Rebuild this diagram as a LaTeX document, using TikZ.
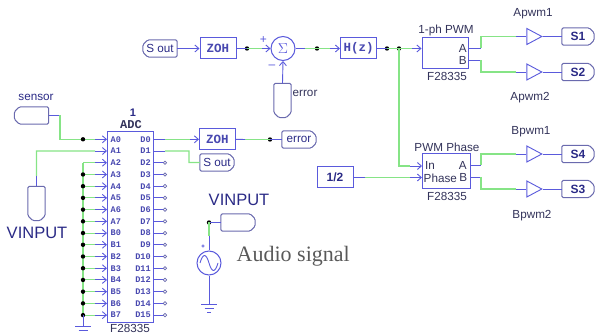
\documentclass[tikz,border=0pt]{standalone}
\usepackage{fontspec}
\setmainfont{Liberation Sans}
\newfontfamily\monof{Liberation Mono}
\newfontfamily\serf{Liberation Serif}
\usetikzlibrary{shapes.geometric,arrows.meta,calc}
\definecolor{bl}{HTML}{5A5ADC}
\definecolor{gr}{HTML}{86E486}
\definecolor{tagc}{HTML}{6A6AAE}
\definecolor{nav}{HTML}{2A2A86}
\definecolor{txt}{HTML}{33335A}
\tikzset{
  x=1pt,y=-1pt,
  bwire/.style={bl,line width=0.9pt},
  gwire/.style={gr,line width=1.1pt},
  arr/.style={-{Straight Barb[length=4pt,width=7pt]},bl,line width=0.9pt},
  blockb/.style={draw=bl,line width=1pt,rectangle,inner sep=0pt},
  tagb/.style={rectangle,inner sep=0pt,text=nav},
  tagh/.style={tagb,minimum width=34pt,minimum height=17pt},
  tagv/.style={tagb,minimum width=17pt,minimum height=34pt},
  tagline/.style={draw=tagc,line width=1pt,rounded corners=1.5pt},
  jdot/.style={circle,fill=black,inner sep=0pt,minimum size=4.4pt},
  opend/.style={circle,draw=tagc,fill=white,line width=0.7pt,inner sep=0pt,minimum size=3.4pt},
  amp/.style={draw=bl,line width=0.9pt,isosceles triangle,isosceles triangle stretches,inner sep=0pt,minimum width=16pt,minimum height=15pt},
  lab/.style={font=\fontsize{11.7}{13}\selectfont,text=txt,inner sep=0pt},
  pinl/.style={font=\monof\bfseries\fontsize{8.6}{9}\selectfont,text=bl!80!black,inner sep=0pt},
  mono/.style={font=\monof\bfseries\fontsize{12.5}{13}\selectfont,text=bl!80!black,inner sep=0pt},
  bigl/.style={font=\fontsize{16.5}{18}\selectfont,text=nav,inner sep=0pt},
  boldl/.style={font=\bfseries\fontsize{12}{13}\selectfont,text=nav},
}
\newcommand{\gndsym}[1]{%
  \draw[bl,line width=0.9pt] ($(#1)+(-8,0)$) -- ($(#1)+(8,0)$);
  \draw[bl,line width=0.9pt] ($(#1)+(-4.5,4)$) -- ($(#1)+(4.5,4)$);
  \draw[bl,line width=0.9pt] ($(#1)+(-2,8)$) -- ($(#1)+(2,8)$);}
% outlines of the three kinds of tag, taken from the node's corners
\newcommand{\tagR}[1]{\draw[tagline] (#1.north west) -- ($(#1.north east)+(-5,0)$) -- ($(#1.north east)+(0,5)$) -- ($(#1.south east)+(0,-5)$) -- ($(#1.south east)+(-5,0)$) -- (#1.south west) -- cycle;}
\newcommand{\tagL}[1]{\draw[tagline] (#1.north east) -- ($(#1.north west)+(5,0)$) -- ($(#1.north west)+(0,5)$) -- ($(#1.south west)+(0,-5)$) -- ($(#1.south west)+(5,0)$) -- (#1.south east) -- cycle;}
\newcommand{\tagD}[1]{\draw[tagline] (#1.north west) -- (#1.north east) -- ($(#1.south east)+(0,-5)$) -- ($(#1.south east)+(-5,0)$) -- ($(#1.south west)+(5,0)$) -- ($(#1.south west)+(0,-5)$) -- cycle;}
\begin{document}
\begin{tikzpicture}
\useasboundingbox (0,0) rectangle (595,334);
% ===== ADC =====
\node[blockb,minimum width=46pt,minimum height=190pt] (adc) at (130,227) {};
\node[font=\bfseries\fontsize{11}{12}\selectfont,text=nav,inner sep=0pt] (adcn) at (133,112.5) {1};
\node[font=\monof\bfseries\fontsize{12}{13}\selectfont,text=txt,inner sep=0pt] (adct) at (131,124.5) {ADC};
\node[lab] (adcf) at (130,328) {F28335};
\foreach \n [count=\i from 0] in {A0,A1,A2,A3,A4,A5,A6,A7,B0,B1,B2,B3,B4,B5,B6,B7}{
  \coordinate (p\n) at (107,139.3+\i*11.72);
  \coordinate (q\n) at (95,139.3+\i*11.72);
  \coordinate (v\n) at (83,139.3+\i*11.72);
  \node[pinl,anchor=west] (l\n) at (110.5,139.3+\i*11.72) {\n};
}
\foreach \n [count=\i from 0] in {D0,D1,D2,D3,D4,D5,D6,D7,D8,D9,D10,D11,D12,D13,D14,D15}{
  \coordinate (p\n) at (153,139.3+\i*11.72);
  \coordinate (q\n) at (165,139.3+\i*11.72);
  \node[pinl,anchor=east] (l\n) at (151,139.3+\i*11.72) {\n};
}
% green rail for unused analog inputs
\draw[gwire] (vA2) -- (vB7);
\foreach \n in {A2,A3,A4,A5,A6,A7,B0,B1,B2,B3,B4,B5,B6,B7}{
  \draw[gwire] (v\n) -- (q\n);
  \draw[arr] (q\n) -- (p\n);
}
\foreach \n in {A3,A4,A5,A6,A7,B0,B1,B2,B3,B4,B5,B6,B7}{
  \node[jdot] (d\n) at (v\n) {};
}
\foreach \n in {D2,D3,D4,D5,D6,D7,D8,D9,D10,D11,D12,D13,D14,D15}{
  \draw[bwire] (p\n) -- (q\n);
  \node[opend] (o\n) at (q\n) {};
}
\coordinate (gA) at (83,326);
\draw[bwire] (vB7) -- (gA);
\gndsym{gA}
% sensor
\node[tagh] (sensor) at (31.5,115.5) {}; \tagL{sensor}
\node[lab,text=nav] (sensort) at (36,97.5) {sensor};
\coordinate (s1) at (60,115.5);
\coordinate (s2) at (60,139.3);
\draw[bwire] (sensor.east) -- (s1);
\draw[gwire] (s1) -- (s2) -- (qA0);
\draw[arr] (qA0) -- (pA0);
\node[jdot] (dA0) at (vA0) {};
% VINPUT left
\node[tagv] (vinl) at (36.5,203.5) {}; \tagD{vinl}
\node[bigl] (vinlt) at (37,233) {VINPUT};
\coordinate (v1) at (36.5,151);
\draw[bwire] (vinl.north) -- (36.5,176);
\draw[gwire] (36.5,176) -- (v1) -- (qA1);
\draw[arr] (qA1) -- (pA1);
% ZOH mid
\node[blockb,minimum width=36pt,minimum height=21pt,mono] (zoh2) at (217.5,139.3) {ZOH};
\node[tagh] (err2) at (299,139.5) {\fontsize{11.7}{13}\selectfont error}; \tagR{err2}
\node[jdot] (d2) at (270,139.5) {};
\draw[gwire] (qD0) -- (190,139.3);
\draw[bwire] (pD0) -- (qD0);
\draw[arr] (190,139.3) -- (zoh2.west);
\draw[gwire] (245,139.5) -- (d2.center);
\draw[bwire] (zoh2.east) -- (245,139.5);
\draw[bwire] (d2.center) -- (err2.west);
% S out lower
\node[tagh] (sout2) at (217,162.5) {\fontsize{11.7}{13}\selectfont S out}; \tagR{sout2}
\draw[bwire] (pD1) -- (qD1);
\draw[gwire] (qD1) -- (189,151) -- (189,162.5) -- (sout2.west);
% Source
\node[tagh] (vin2) at (238,222.5) {}; \tagR{vin2}
\node[bigl] (vin2t) at (239,200) {VINPUT};
\node[jdot] (d3) at (209,222.5) {};
\draw[bwire] (vin2.west) -- (d3.center);
\node[circle,draw=bl,line width=1pt,minimum size=24pt,inner sep=0pt] (src) at (209,263) {};
\draw[gwire] (d3.center) -- (209,236);
\draw[bwire] (209,236) -- (src.north);
\draw[bl,line width=0.9pt] (200,263) .. controls (203,253) and (206,253) .. (209,263) .. controls (212,273) and (215,273) .. (218,263);
\node[circle,draw=bl,line width=0.6pt,inner sep=0pt,minimum size=2.5pt] (srcd) at (203,246) {};
\coordinate (gS) at (209,304);
\draw[bwire] (src.south) -- (gS);
\gndsym{gS}
\node[font=\serf\fontsize{22}{24}\selectfont,text=black!65,inner sep=0pt,anchor=west] (aud) at (236.5,256) {Audio signal};
% ===== top chain =====
\node[tagh] (sout1) at (160,48.5) {\fontsize{11.7}{13}\selectfont S out}; \tagL{sout1}
\node[blockb,minimum width=36pt,minimum height=21pt,mono] (zoh1) at (218,48.5) {ZOH};
\node[circle,draw=bl,line width=1pt,minimum size=24pt,inner sep=0pt,text=bl] (sum) at (283,48.5) {\fontsize{15}{16}\selectfont$\Sigma$};
\node[blockb,minimum width=36pt,minimum height=21pt,mono] (hz) at (358.5,48.5) {H(z)};
\node[jdot] (d4) at (247,48.5) {};
\node[jdot] (d5) at (317,48.5) {};
\node[jdot] (d6) at (387,48.5) {};
\node[jdot] (d7) at (399,48.5) {};
\draw[arr] (sout1.east) -- (zoh1.west);
\draw[bwire] (zoh1.east) -- (d4.center);
\draw[gwire] (d4.center) -- (262,48.5);
\draw[arr] (262,48.5) -- (sum.west);
\draw[bwire] (sum.east) -- (305,48.5);
\draw[gwire] (305,48.5) -- (330,48.5);
\draw[arr] (330,48.5) -- (hz.west);
\draw[bwire] (hz.east) -- (d6.center);
\draw[gwire] (d6.center) -- (d7.center) -- (412,48.5);
\node[font=\fontsize{12}{13}\selectfont,text=bl,inner sep=0pt] (plus) at (263.5,40) {+};
\node[font=\fontsize{12}{13}\selectfont,text=bl,inner sep=0pt] (minus) at (272,67) {\textendash};
\node[tagv] (err1) at (282.5,100.5) {}; \tagD{err1}
\node[lab,anchor=west] (err1t) at (292.5,93.5) {error};
\draw[arr] (err1.north) -- (sum.south);
% ===== PWM 1 =====
\node[blockb,minimum width=46pt,minimum height=31pt] (pwm1) at (445,53.5) {};
\node[lab] (pwm1t) at (446,30) {1-ph PWM};
\node[lab] (pwm1f) at (447,76.5) {F28335};
\node[lab,anchor=east] (pwm1a) at (467,48) {A};
\node[lab,anchor=east] (pwm1b) at (467,60.5) {B};
\draw[arr] (412,48.5) -- (pwm1.west |- d7);
\coordinate (pa1) at (468,48.5);
\coordinate (pa2) at (481,48.5);
\coordinate (pb1) at (468,60.5);
\coordinate (pb2) at (481,60.5);
\node[amp,anchor=apex] (t1) at (543,36.5) {};
\node[amp,anchor=apex] (t2) at (543,72) {};
\node[tagh,boldl,minimum width=32pt] (S1) at (578,36.5) {S1}; \tagR{S1}
\node[tagh,boldl,minimum width=32pt] (S2) at (578,72) {S2}; \tagR{S2}
\draw[bwire] (pa1) -- (pa2);
\draw[bwire] (pb1) -- (pb2);
\draw[gwire] (pa2) -- (481,36.5) -- (516,36.5);
\draw[gwire] (pb2) -- (481,72) -- (516,72);
\draw[bwire] (516,36.5) -- (t1.west);
\draw[bwire] (516,72) -- (t2.west);
\draw[bwire] (t1.apex) -- (S1.west);
\draw[bwire] (t2.apex) -- (S2.west);
\node[lab] (ap1) at (533,14) {Apwm1};
\node[lab] (ap2) at (530,98) {Apwm2};
% ===== PWM phase =====
\node[blockb,minimum width=48pt,minimum height=35pt] (pwm2) at (446,171.5) {};
\node[lab] (pwm2t) at (447,147) {PWM Phase};
\node[lab] (pwm2f) at (447,196) {F28335};
\node[lab,anchor=west] (pwm2i) at (425,165) {In};
\node[lab,anchor=west] (pwm2p) at (423.5,178) {Phase};
\node[lab,anchor=east] (pwm2a) at (467,165) {A};
\node[lab,anchor=east] (pwm2b) at (467.5,177.5) {B};
\coordinate (c1) at (399,166);
\draw[gwire] (d7.center) -- (c1) -- (410,166);
\draw[arr] (410,166) -- (422,166);
\node[blockb,minimum width=36pt,minimum height=21pt,boldl] (half) at (335,177.5) {1/2};
\draw[bwire] (half.east) -- (365,177.5);
\draw[gwire] (365,177.5) -- (410,177.5);
\draw[arr] (410,177.5) -- (422,177.5);
\node[amp,anchor=apex] (t3) at (543,154) {};
\node[amp,anchor=apex] (t4) at (543,189) {};
\node[tagh,boldl,minimum width=32pt] (S4) at (578,154) {S4}; \tagR{S4}
\node[tagh,boldl,minimum width=32pt] (S3) at (578,189) {S3}; \tagR{S3}
\draw[bwire] (470,165.5) -- (481,165.5);
\draw[bwire] (470,177.5) -- (481,177.5);
\draw[gwire] (481,165.5) -- (481,154) -- (516,154);
\draw[gwire] (481,177.5) -- (481,189) -- (516,189);
\draw[bwire] (516,154) -- (t3.west);
\draw[bwire] (516,189) -- (t4.west);
\draw[bwire] (t3.apex) -- (S4.west);
\draw[bwire] (t4.apex) -- (S3.west);
\node[lab] (bp1) at (531,132) {Bpwm1};
\node[lab] (bp2) at (532,216) {Bpwm2};
\end{tikzpicture}
\end{document}
